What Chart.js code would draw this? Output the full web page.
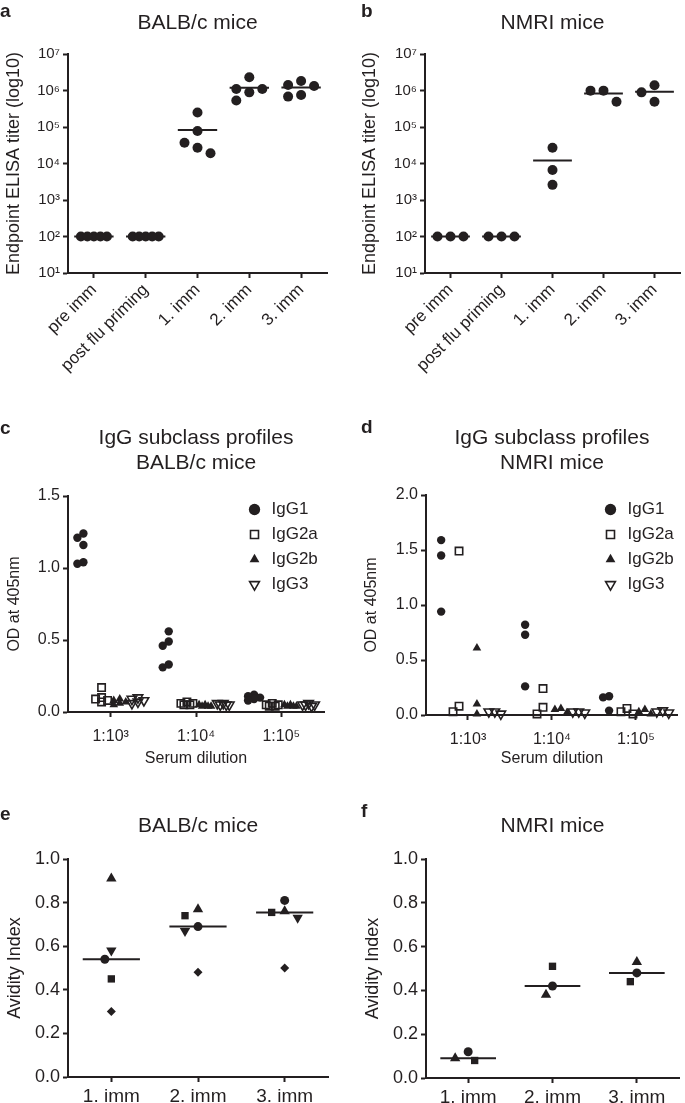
<!DOCTYPE html>
<html>
<head>
<meta charset="utf-8">
<script src="https://cdn.jsdelivr.net/npm/chart.js@4.4.1/dist/chart.umd.min.js"></script>
<style>
  html, body { margin: 0; padding: 0; background: #fff; }
  #fig { position: relative; width: 685px; height: 1103px; overflow: hidden; }
  #fig canvas { position: absolute; }
  .tag { position: absolute; font: bold 19px/1 'Liberation Sans', Arial, sans-serif; color: #231f20; }
</style>
</head>
<body>
<div id="fig">
  <canvas id="pa" width="340" height="392" style="left:0;top:0"></canvas>
  <canvas id="pb" width="345" height="392" style="left:340px;top:0"></canvas>
  <canvas id="pc" width="340" height="380" style="left:0;top:400px"></canvas>
  <canvas id="pd" width="345" height="380" style="left:340px;top:400px"></canvas>
  <canvas id="pe" width="340" height="313" style="left:0;top:790px"></canvas>
  <canvas id="pf" width="345" height="313" style="left:340px;top:790px"></canvas>
  <span class="tag" style="left:0;top:1px">a</span>
  <span class="tag" style="left:361px;top:1px">b</span>
  <span class="tag" style="left:0;top:418px">c</span>
  <span class="tag" style="left:361px;top:417px">d</span>
  <span class="tag" style="left:0;top:804px">e</span>
  <span class="tag" style="left:361px;top:801px">f</span>
</div>
<script>
// ---- values ----

// a / b : endpoint ELISA titers
const titerGroups = ['pre imm', 'post flu priming', '1. imm', '2. imm', '3. imm'];
const titerTicks = [1e1, 1e2, 1e3, 1e4, 1e5, 1e6, 1e7];

const balbPre     = [100, 100, 100, 100, 100];
const balbPostFlu = [100, 100, 100, 100, 100];
const balbImm1    = [250000, 78000, 37000, 19000, 27000];
const balbImm2    = [2300000, 1100000, 1100000, 890000, 530000];
const balbImm3    = [1820000, 1420000, 1330000, 680000, 750000];

const nmriPre     = [100, 100, 100];
const nmriPostFlu = [100, 100, 100];
const nmriImm1    = [27000, 6600, 2600];
const nmriImm2    = [990000, 990000, 490000];
const nmriImm3    = [1390000, 890000, 490000];

// c / d : IgG subclasses, one inner list per dilution
const dilutions = ['1:10³', '1:10⁴', '1:10⁵'];
const subclasses = ['IgG1', 'IgG2a', 'IgG2b', 'IgG3'];
const odTicksBalb = [0, 0.5, 1.0, 1.5];
const odTicksNmri = [0, 0.5, 1.0, 1.5, 2.0];

const balbIgG1  = [[1.24, 1.21, 1.16, 1.04, 1.03], [0.56, 0.49, 0.46, 0.33, 0.31], [0.12, 0.11, 0.10, 0.09, 0.08]];
const balbIgG2a = [[0.17, 0.10, 0.09, 0.08, 0.07], [0.07, 0.06, 0.06, 0.05, 0.05], [0.06, 0.05, 0.05, 0.04, 0.04]];
const balbIgG2b = [[0.09, 0.08, 0.07, 0.06, 0.05], [0.05, 0.05, 0.04, 0.04, 0.04], [0.05, 0.05, 0.04, 0.04, 0.04]];
const balbIgG3  = [[0.10, 0.09, 0.08, 0.07, 0.06], [0.06, 0.06, 0.05, 0.05, 0.05], [0.06, 0.05, 0.05, 0.05, 0.04]];

const nmriIgG1  = [[1.59, 1.45, 0.94], [0.82, 0.73, 0.26], [0.17, 0.16, 0.04]];
const nmriIgG2a = [[1.49, 0.08, 0.03], [0.24, 0.07, 0.01], [0.06, 0.03, 0.01]];
const nmriIgG2b = [[0.61, 0.10, 0.01], [0.06, 0.05, 0.02], [0.05, 0.03, 0.01]];
const nmriIgG3  = [[0.03, 0.03, 0.01], [0.03, 0.03, 0.02], [0.04, 0.03, 0.02]];

// e / f : avidity index, one list per mouse (1., 2., 3. imm)
const immGroups = ['1. imm', '2. imm', '3. imm'];
const avidityTicks = [0, 0.2, 0.4, 0.6, 0.8, 1.0];

const balbCircle   = [0.54, 0.69, 0.81];
const balbSquare   = [0.45, 0.74, 0.755];
const balbTriangle = [0.91, 0.77, 0.76];
const balbDown     = [0.58, 0.67, 0.73];
const balbDiamond  = [0.30, 0.48, 0.50];

const nmriCircle   = [0.12, 0.42, 0.48];
const nmriSquare   = [0.08, 0.51, 0.44];
const nmriTriangle = [0.09, 0.38, 0.53];

// ---- look ----
const INK = '#231f20';
const FONT = "'Liberation Sans', Arial, Helvetica, sans-serif";
const CLEAR = 'rgba(0,0,0,0)';
Chart.defaults.font.family = FONT;
Chart.defaults.color = INK;

const SUP = { 0: '⁰', 1: '¹', 2: '²', 3: '³', 4: '⁴', 5: '⁵', 6: '⁶', 7: '⁷', 8: '⁸', 9: '⁹' };
const sup = n => String(n).split('').map(d => SUP[d]).join('');
const mean = a => a.reduce((s, v) => s + v, 0) / a.length;
const median = a => {
  const s = [...a].sort((p, q) => p - q), m = s.length >> 1;
  return s.length % 2 ? s[m] : (s[m - 1] + s[m]) / 2;
};

const subclassMarks = [
  { pointStyle: 'circle', pointRadius: 4.2, backgroundColor: INK, borderColor: INK, borderWidth: 0 },
  { pointStyle: 'rect', pointRadius: 5.2, backgroundColor: CLEAR, borderColor: INK, borderWidth: 1.6 },
  { pointStyle: 'triangle', pointRadius: 5, backgroundColor: INK, borderColor: INK, borderWidth: 0 },
  { pointStyle: 'triangle', pointRotation: 180, pointRadius: 5.5, backgroundColor: CLEAR, borderColor: INK, borderWidth: 1.6 }
];
const mouseMarks = [
  { pointStyle: 'circle', pointRadius: 4.5 },
  { pointStyle: 'rect', pointRadius: 5.2 },
  { pointStyle: 'triangle', pointRadius: 6 },
  { pointStyle: 'triangle', pointRotation: 180, pointRadius: 6 },
  { pointStyle: 'rectRot', pointRadius: 4.5 }
];

// --- datasets ---
function levelLine(centers, levels, half) {
  const pts = [];
  levels.forEach((m, i) => {
    pts.push({ x: centers[i] - half, y: m }, { x: centers[i] + half, y: m }, { x: centers[i] + half, y: null });
  });
  return { type: 'line', data: pts, showLine: true, spanGaps: false, borderColor: INK,
           borderWidth: 2, pointRadius: 0, fill: false, clip: false };
}

function titerSets(groups, half) {
  const dots = [];
  groups.forEach((vals, i) => vals.forEach(v => dots.push({ x: i + 1, y: v, c: i + 1 })));
  return [
    { type: 'scatter', data: dots, pointStyle: 'circle', pointRadius: 5,
      backgroundColor: INK, borderColor: INK, borderWidth: 0, clip: false },
    levelLine(groups.map((_, i) => i + 1), groups.map(mean), half)
  ];
}

function subclassSets(series) {
  return series.map((groups, k) => {
    const off = (k - 1.5) * 0.213;
    const pts = [];
    groups.forEach((vals, i) => vals.forEach(v => pts.push({ x: i + 1 + off, y: v, c: i + 1 + off })));
    return Object.assign({ label: subclasses[k], type: 'scatter', data: pts, clip: false }, subclassMarks[k]);
  });
}

function aviditySets(mice, half) {
  const sets = mice.map((vals, m) => Object.assign({
    type: 'scatter', clip: false, backgroundColor: INK, borderColor: INK, borderWidth: 0,
    data: vals.map((v, i) => ({ x: i + 1, y: v, c: i + 1 }))
  }, mouseMarks[m]));
  const levels = immGroups.map((_, i) => median(mice.map(a => a[i])));
  sets.push(levelLine(immGroups.map((_, i) => i + 1), levels, half));
  return sets;
}

// --- axes ---
function axisLines() {
  return {
    border: { display: true, color: INK, width: 2 },
    grid: { drawOnChartArea: false, drawTicks: true, tickLength: 5, tickWidth: 2, tickColor: INK }
  };
}

function xAxis(p) {
  return Object.assign(axisLines(), {
    type: 'linear', min: 0.5, max: p.cats.length + 0.5,
    afterBuildTicks: s => { s.ticks = p.cats.map((_, i) => ({ value: i + 1 })); },
    afterFit: s => { s.height = p.xHeight; },
    ticks: { autoSkip: false, minRotation: p.rot, maxRotation: p.rot, padding: p.xPad, color: INK,
             font: { size: p.xSize }, callback: v => p.cats[Math.round(v) - 1] },
    title: p.xTitle
      ? { display: true, text: p.xTitle, color: INK, font: { size: p.xTitleSize }, padding: { top: 0, bottom: p.xTitlePad } }
      : { display: false }
  });
}

function yAxis(p) {
  return Object.assign(axisLines(), {
    type: p.log ? 'logarithmic' : 'linear',
    min: p.yTicks[0], max: p.yTicks[p.yTicks.length - 1],
    afterBuildTicks: s => { s.ticks = p.yTicks.map(v => ({ value: v })); },
    afterFit: s => { s.width = p.yWidth; },
    ticks: { padding: 3, color: INK, font: { size: p.ySize },
             callback: p.log ? v => '10' + sup(Math.round(Math.log10(v))) : v => v.toFixed(1) },
    title: { display: true, text: p.yTitle, color: INK, font: { size: p.yTitleSize },
             padding: { top: p.yTitlePad, bottom: 0 } }
  });
}

// moves a chartArea legend to a fixed spot inside the plot
const legendSpot = {
  id: 'legendSpot',
  afterLayout(chart, args, opts) {
    const lg = chart.legend;
    if (!lg || opts.x == null) return;
    const w = lg.width, h = lg.height;
    lg.left = opts.x; lg.right = opts.x + w;
    lg.top = opts.y; lg.bottom = opts.y + h;
  }
};

function panel(id, p, datasets) {
  const chart = new Chart(document.getElementById(id), {
    type: 'scatter',
    data: { datasets },
    plugins: [legendSpot],
    options: {
      responsive: false, animation: false, devicePixelRatio: 1, events: [],
      layout: { padding: { left: 0, right: p.padRight, top: 0, bottom: 0 } },
      plugins: {
        tooltip: { enabled: false },
        title: { display: true, text: p.title, fullSize: false, color: INK,
                 font: { size: 21, weight: 'normal', lineHeight: 1.2 }, padding: p.titlePad },
        legend: p.legend
          ? { display: true, position: 'chartArea', align: 'start',
              labels: { usePointStyle: true, boxWidth: 17, boxHeight: 8, padding: 8, color: INK, font: { size: 17 } } }
          : { display: false },
        legendSpot: p.legend || {}
      },
      scales: { x: xAxis(p), y: yAxis(p) }
    }
  });
  swarm(chart, p.step, p.minDist, p.order);
  return chart;
}

// simple bee-swarm: spreads overlapping points of one group sideways
function swarm(chart, step, minDist, order) {
  const xs = chart.scales.x, ys = chart.scales.y;
  const unit = xs.getPixelForValue(1) - xs.getPixelForValue(0);
  const groups = new Map();
  chart.data.datasets.forEach(ds => {
    if (ds.type !== 'scatter') return;
    ds.data.forEach(p => {
      const key = p.c.toFixed(3);
      if (!groups.has(key)) groups.set(key, []);
      groups.get(key).push({ p, py: ys.getPixelForValue(p.y) });
    });
  });
  groups.forEach(list => {
    const placed = [];
    list.sort((a, b) => a.py - b.py).forEach(q => {
      let best = 0, bestGap = -1;
      for (const f of order) {
        const dx = f * step;
        const gap = placed.reduce((g, o) => Math.min(g, Math.hypot(dx - o.dx, q.py - o.py)), Infinity);
        if (gap >= minDist) { best = dx; break; }
        if (gap > bestGap) { bestGap = gap; best = dx; }
      }
      q.dx = best;
      placed.push(q);
      q.p.x = q.p.c + best / unit;
    });
  });
  chart.data.datasets.forEach(ds => { ds.data = ds.data.map(pt => Object.assign({}, pt)); });
  chart.update('none');
}

const WIDE = [0, -1, 1, -0.5, 0.5];
const NEAR = [0, -0.5, 0.5, -1, 1];

// title box: 21px * 1.2 = 25.2px line
const titerBase = {
  cats: titerGroups, log: true, yTicks: titerTicks, rot: 45, xPad: 2, xSize: 17, ySize: 15,
  yTitle: 'Endpoint ELISA titer (log10)', yTitleSize: 18, titlePad: { top: 10.4, bottom: 18.4 },
  xHeight: 119, step: 13, minDist: 12, order: WIDE
};
panel('pa', Object.assign({}, titerBase, { title: 'BALB/c mice', yWidth: 68, padRight: 13, yTitlePad: 3 }),
  titerSets([balbPre, balbPostFlu, balbImm1, balbImm2, balbImm3], 0.38));
panel('pb', Object.assign({}, titerBase, { title: 'NMRI mice', yWidth: 85, padRight: 2, yTitlePad: 19 }),
  titerSets([nmriPre, nmriPostFlu, nmriImm1, nmriImm2, nmriImm3], 0.38));

const odBase = {
  cats: dilutions, rot: 0, xPad: 10, xSize: 16, ySize: 16, yTitle: 'OD at 405nm', yTitleSize: 16,
  xTitle: 'Serum dilution', xTitleSize: 16, xTitlePad: 12, step: 6, minDist: 8, order: WIDE
};
panel('pc', Object.assign({}, odBase, {
  title: ['IgG subclass profiles', 'BALB/c mice'], yTicks: odTicksBalb, yWidth: 68, padRight: 16,
  yTitlePad: 5, xHeight: 68, titlePad: { top: 25.4, bottom: 20.2 }, legend: { x: 238, y: 93 }
}), subclassSets([balbIgG1, balbIgG2a, balbIgG2b, balbIgG3]));
panel('pd', Object.assign({}, odBase, {
  title: ['IgG subclass profiles', 'NMRI mice'], yTicks: odTicksNmri, yWidth: 86, padRight: 3,
  yTitlePad: 22, xHeight: 65, titlePad: { top: 25.4, bottom: 19.2 }, legend: { x: 254, y: 93 }
}), subclassSets([nmriIgG1, nmriIgG2a, nmriIgG2b, nmriIgG3]));

const avBase = {
  cats: immGroups, yTicks: avidityTicks, rot: 0, xPad: 3, xSize: 19, ySize: 18,
  yTitle: 'Avidity Index', yTitleSize: 18, titlePad: { top: 24.1, bottom: 19.7 },
  step: 13, minDist: 10, order: NEAR
};
panel('pe', Object.assign({}, avBase, { title: 'BALB/c mice', yWidth: 68, padRight: 12, yTitlePad: 4, xHeight: 26 }),
  aviditySets([balbCircle, balbSquare, balbTriangle, balbDown, balbDiamond], 0.33));
panel('pf', Object.assign({}, avBase, { title: 'NMRI mice', yWidth: 86, padRight: 2, yTitlePad: 22, xHeight: 25 }),
  aviditySets([nmriCircle, nmriSquare, nmriTriangle], 0.33));
</script>
</body>
</html>
